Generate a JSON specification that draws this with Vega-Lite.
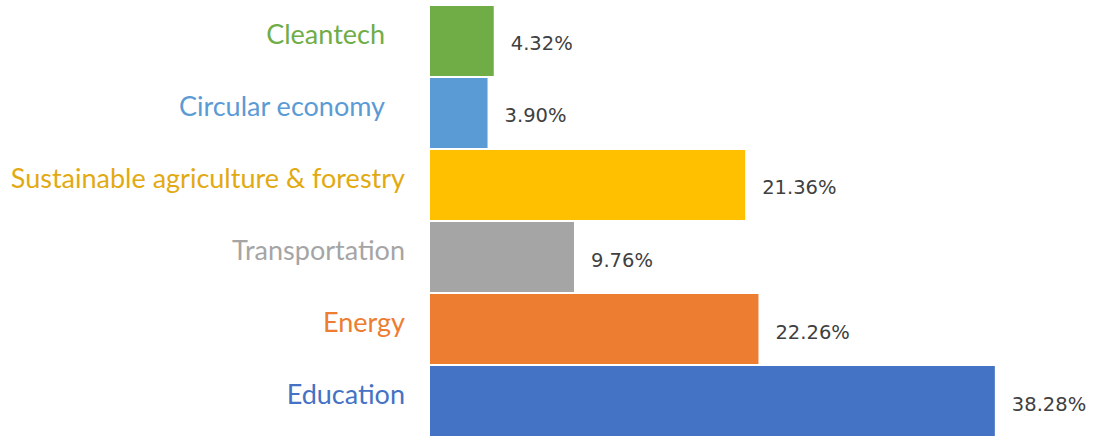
{
  "$schema": "https://vega.github.io/schema/vega-lite/v6.json",
  "width": 664,
  "height": 430,
  "autosize": {"type": "none"},
  "padding": {"left": 430, "top": 6, "right": 0, "bottom": 1},
  "background": "white",
  "config": {"view": {"stroke": null}},
  "data": {
    "values": [
      {"sector": "Cleantech", "share": 0.0432},
      {"sector": "Circular economy", "share": 0.0390},
      {"sector": "Sustainable agriculture & forestry", "share": 0.2136},
      {"sector": "Transportation", "share": 0.0976},
      {"sector": "Energy", "share": 0.2226},
      {"sector": "Education", "share": 0.3828}
    ]
  },
  "encoding": {
    "y": {
      "field": "sector",
      "type": "nominal",
      "sort": null,
      "axis": null,
      "scale": {"paddingInner": 0.028, "paddingOuter": 0}
    }
  },
  "layer": [
    {
      "mark": {"type": "bar"},
      "encoding": {
        "x": {"field": "share", "type": "quantitative", "axis": null, "scale": {"domain": [0, 0.45], "nice": false}},
        "color": {
          "field": "sector",
          "type": "nominal",
          "legend": null,
          "scale": {
            "domain": ["Cleantech", "Circular economy", "Sustainable agriculture & forestry", "Transportation", "Energy", "Education"],
            "range": ["#70AD47", "#5B9BD5", "#FFC000", "#A5A5A5", "#ED7D31", "#4472C4"]
          }
        }
      }
    },
    {
      "mark": {"type": "text", "align": "left", "baseline": "alphabetic", "dx": 17, "dy": 9.5, "font": "DejaVu Sans", "fontSize": 19.5, "color": "#404040"},
      "encoding": {
        "x": {"field": "share", "type": "quantitative"},
        "text": {"field": "share", "type": "quantitative", "format": ".2%"}
      }
    },
    {
      "transform": [{"filter": "datum.sector != 'Cleantech' && datum.sector != 'Circular economy'"}],
      "mark": {"type": "text", "align": "right", "baseline": "alphabetic", "dx": -25, "dy": 3, "font": "Lato", "fontSize": 27},
      "encoding": {
        "x": {"datum": 0, "type": "quantitative"},
        "text": {"field": "sector", "type": "nominal"},
        "color": {
          "field": "sector",
          "type": "nominal",
          "legend": null,
          "scale": {
            "domain": ["Cleantech", "Circular economy", "Sustainable agriculture & forestry", "Transportation", "Energy", "Education"],
            "range": ["#70AD47", "#5B9BD5", "#E2AA12", "#A5A5A5", "#ED7D31", "#4472C4"]
          }
        }
      }
    },
    {
      "transform": [{"filter": "datum.sector == 'Cleantech' || datum.sector == 'Circular economy'"}],
      "mark": {"type": "text", "align": "right", "baseline": "alphabetic", "dx": -45, "dy": 3, "font": "Lato", "fontSize": 27},
      "encoding": {
        "x": {"datum": 0, "type": "quantitative"},
        "text": {"field": "sector", "type": "nominal"},
        "color": {
          "field": "sector",
          "type": "nominal",
          "legend": null,
          "scale": {
            "domain": ["Cleantech", "Circular economy", "Sustainable agriculture & forestry", "Transportation", "Energy", "Education"],
            "range": ["#70AD47", "#5B9BD5", "#E2AA12", "#A5A5A5", "#ED7D31", "#4472C4"]
          }
        }
      }
    }
  ],
  "resolve": {"scale": {"color": "independent"}}
}
